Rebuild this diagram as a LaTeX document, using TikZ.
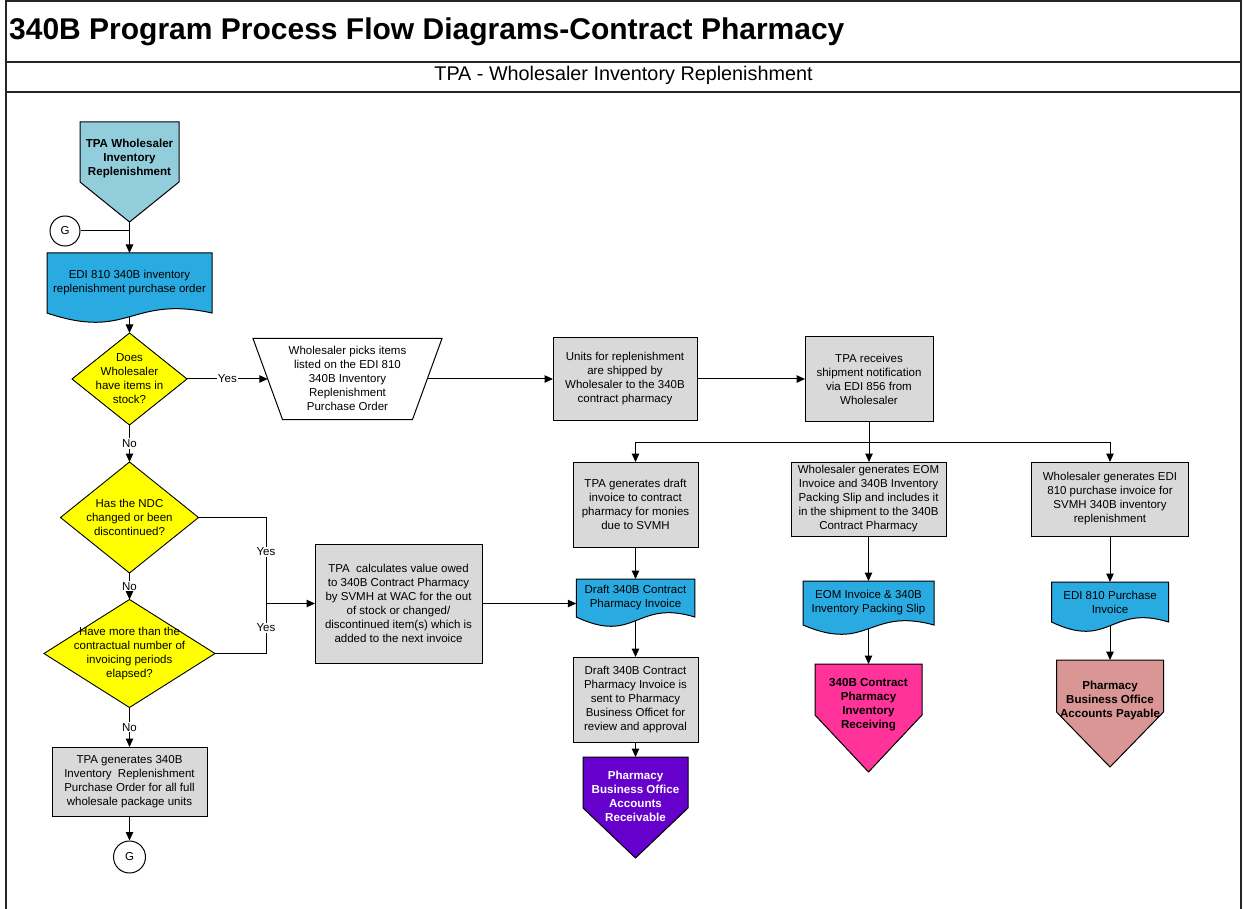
\documentclass[tikz,border=0pt]{standalone}
\usepackage{fontspec}
\setmainfont{Liberation Sans}
\usetikzlibrary{shapes.geometric,arrows.meta,calc,backgrounds}

\definecolor{startblue}{RGB}{146,205,220}
\definecolor{docblue}{RGB}{41,171,226}
\definecolor{procgray}{RGB}{217,217,217}
\definecolor{decyellow}{RGB}{255,255,0}
\definecolor{arpurple}{RGB}{102,0,204}
\definecolor{recvpink}{RGB}{255,51,153}
\definecolor{apsalmon}{RGB}{218,150,148}

\tikzset{
  conn/.style={draw=black, line width=1},
  arr/.style={conn, -{Triangle[length=8.5pt,width=7.5pt]}},
  txt/.style={font=\fontsize{11.5}{14}\selectfont, align=center, inner sep=0, outer sep=0},
  btxt/.style={font=\fontsize{11.6}{14}\selectfont\bfseries, align=center, inner sep=0, outer sep=0},
  procbox/.style={txt, draw=black, line width=1, fill=procgray},
  docnode/.style={txt},
  bodynode/.style={inner sep=0, outer sep=0},
  decision/.style={diamond, draw=black, line width=0.9, fill=decyellow, inner sep=0, outer sep=0},
  gconn/.style={circle, draw=black, line width=1, fill=white, inner sep=0,
    font=\fontsize{11.5}{14}\selectfont},
  lbl/.style={fill=white, inner sep=1.2, font=\fontsize{11.5}{13}\selectfont},
  frameline/.style={draw=black!85, line width=1.5},
}

% document symbol: straight top and sides, wavy bottom edge
\newcommand\docshape[2]{%
  \begin{scope}[on background layer]
    \filldraw[fill=#2, draw=black, line width=1]
      (#1.south west) -- (#1.north west) -- (#1.north east) -- (#1.south east)
      .. controls ($(#1.south)+(0,-18)$) and ($(#1.south)+(0,28)$) .. (#1.south west) -- cycle;
  \end{scope}}

% off-page reference: body with a pointed bottom
\newcommand\offpage[3]{%
  \filldraw[fill=#2, draw=black, line width=1]
    (#1.north west) -- (#1.north east) -- (#1.south east) -- ($(#1.south)+(0,#3)$)
    -- (#1.south west) -- cycle;}

% manual operation: wide top edge, narrower bottom edge
\newcommand\manualop[2]{%
  \filldraw[fill=white, draw=black, line width=1]
    (#1.north west) -- (#1.north east) -- ([xshift=-#2]#1.south east)
    -- ([xshift=#2]#1.south west) -- cycle;}

\begin{document}
\begin{tikzpicture}[x=1pt,y=-1pt]
\useasboundingbox (0,0) rectangle (1243,909);

% ---- frame and headings ----
\draw[frameline] (6,909) -- (6,1) -- (1241,1) -- (1241,909);
\draw[frameline] (6,62) -- (1241,62);
\draw[frameline] (6,92) -- (1241,92);
\node[anchor=west, inner sep=0, font=\fontsize{30}{32}\selectfont\bfseries] (title)
  at (9,32) {340B Program Process Flow Diagrams-Contract Pharmacy};
\node[inner sep=0, font=\fontsize{19.8}{22}\selectfont] (subtitle)
  at (623.5,75) {TPA - Wholesaler Inventory Replenishment};

% ---- start reference ----
\node[bodynode, minimum width=99, minimum height=60] (start) at (129.5,152) {};
\offpage{start}{startblue}{40}
\coordinate (startTip) at ($(start.south)+(0,40)$);
\node[btxt] (startText) at (129.5,158.5) {TPA Wholesaler\\Inventory\\Replenishment};

% ---- left column ----
\node[gconn, minimum size=30] (gtop) at (65,231) {G};
\coordinate (gjoin) at (129.5,231);

\node[docnode, minimum width=165, minimum height=60] (po810) at (129.5,283)
  {EDI 810 340B inventory\\replenishment purchase order};
\docshape{po810}{docblue}

\node[decision, minimum width=115, minimum height=92] (d1) at (129.5,379) {};
\node[txt] (d1t) at (129.5,378.5) {Does\\Wholesaler\\have items in\\stock?};

\node[decision, minimum width=138, minimum height=111] (d2) at (129.5,517.5) {};
\node[txt] (d2t) at (129.5,517) {Has the NDC\\changed or been\\discontinued?};

\node[decision, minimum width=171, minimum height=108] (d3) at (129.5,653.5) {};
\node[txt] (d3t) at (129.5,653.5) {Have more than the\\contractual number of\\invoicing periods\\elapsed?};

\node[procbox, minimum width=155, minimum height=69] (genpo) at (129.5,781.5)
  {TPA generates 340B\\Inventory\ \ Replenishment\\Purchase Order for all full\\wholesale package units};

\node[gconn, minimum size=32] (gbot) at (129.5,857) {G};

% ---- top row ----
\node[bodynode, minimum width=189, minimum height=81] (pick) at (347.5,379) {};
\manualop{pick}{29.5pt}
\node[txt] (pickt) at (347.5,378.5)
  {Wholesaler picks items\\listed on the EDI 810\\340B Inventory\\Replenishment\\Purchase Order};

\node[procbox, minimum width=144, minimum height=82] (units) at (625,379)
  {Units for replenishment\\are shipped by\\Wholesaler to the 340B\\contract pharmacy};

\node[procbox, minimum width=128, minimum height=84] (recv) at (869,379)
  {TPA receives\\shipment notification\\via EDI 856 from\\Wholesaler};
\coordinate (split) at (869,442);

% ---- value calculation ----
\node[procbox, minimum width=167, minimum height=119] (calcv) at (398.5,603.5)
  {TPA\ \ calculates value owed\\to 340B Contract Pharmacy\\by SVMH at WAC for the out\\of stock or changed/\\discontinued item(s) which is\\added to the next invoice};
\coordinate (ya) at (266,517.5);
\coordinate (yb) at (266,653.5);
\coordinate (yj) at (266,603.5);

% ---- receivable branch ----
\node[procbox, minimum width=125, minimum height=85] (gendraft) at (635.5,504.5)
  {TPA generates draft\\invoice to contract\\pharmacy for monies\\due to SVMH};
\node[docnode, minimum width=118.5, minimum height=38] (draftdoc) at (635.5,598)
  {Draft 340B Contract\\Pharmacy Invoice};
\docshape{draftdoc}{docblue}
\node[procbox, minimum width=125, minimum height=85] (review) at (635.5,699.5)
  {Draft 340B Contract\\Pharmacy Invoice is\\sent to Pharmacy\\Business Officet for\\review and approval};
\node[bodynode, minimum width=105, minimum height=51] (arec) at (635.5,782.5) {};
\offpage{arec}{arpurple}{50}
\node[btxt, text=white] (arect) at (635.5,796) {Pharmacy\\Business Office\\Accounts\\Receivable};

% ---- inventory receiving branch ----
\node[procbox, minimum width=155, minimum height=74] (eomgen) at (868.5,499)
  {Wholesaler generates EOM\\Invoice and 340B Inventory\\Packing Slip and includes it\\in the shipment to the 340B\\Contract Pharmacy};
\node[docnode, minimum width=131, minimum height=44] (eomdoc) at (868.5,603)
  {EOM Invoice \& 340B\\Inventory Packing Slip};
\docshape{eomdoc}{docblue}
\node[bodynode, minimum width=107, minimum height=51] (invrecv) at (868.5,689.5) {};
\offpage{invrecv}{recvpink}{57}
\node[btxt] (invrecvt) at (868.5,705) {340B Contract\\Pharmacy\\Inventory\\Receiving};

% ---- payable branch ----
\node[procbox, minimum width=157, minimum height=74] (edigen) at (1110,499)
  {Wholesaler generates EDI\\810 purchase invoice for\\SVMH 340B inventory\\replenishment};
\node[docnode, minimum width=117, minimum height=40] (edidoc) at (1110,602)
  {EDI 810 Purchase\\Invoice};
\docshape{edidoc}{docblue}
\node[bodynode, minimum width=107, minimum height=52] (apay) at (1110,686) {};
\offpage{apay}{apsalmon}{55}
\node[btxt] (apayt) at (1110,700) {Pharmacy\\Business Office\\Accounts Payable};

% ---- connectors ----
\draw[arr] (startTip) -- (po810.north);
\draw[conn] (gtop.east) -- (gjoin);
\draw[arr] ([yshift=-4pt]po810.south) -- (d1.north);
\draw[arr] (d1.east) -- node[lbl] {Yes} ([xshift=14.75pt]pick.west);
\draw[arr] (d1.south) -- node[lbl] {No} (d2.north);
\draw[arr] (d2.south) -- node[lbl] {No} (d3.north);
\draw[arr] (d3.south) -- node[lbl] {No} (genpo.north);
\draw[arr] (genpo.south) -- (gbot.north);

\draw[conn] (d2.east) -- (ya) -- (yb) -- (d3.east);
\node[lbl] (yes2) at (266,552) {Yes};
\node[lbl] (yes3) at (266,628) {Yes};
\draw[arr] (yj) -- (calcv.west);
\draw[arr] (calcv.east) -- (calcv.east -| draftdoc.west);

\draw[arr] ([xshift=-14.75pt]pick.east) -- (units.west);
\draw[arr] (units.east) -- (recv.west);
\draw[conn] (recv.south) -- (split);
\draw[arr] (split) -| (gendraft.north);
\draw[arr] (split) -- (split |- eomgen.north);
\draw[arr] (split) -| (edigen.north);

\draw[arr] (gendraft.south) -- (draftdoc.north);
\draw[arr] ([yshift=-4pt]draftdoc.south) -- (review.north);
\draw[arr] (review.south) -- (arec.north);

\draw[arr] (eomgen.south) -- (eomdoc.north);
\draw[arr] ([yshift=-4pt]eomdoc.south) -- (invrecv.north);

\draw[arr] (edigen.south) -- (edidoc.north);
\draw[arr] ([yshift=-4pt]edidoc.south) -- (apay.north);
\end{tikzpicture}
\end{document}
